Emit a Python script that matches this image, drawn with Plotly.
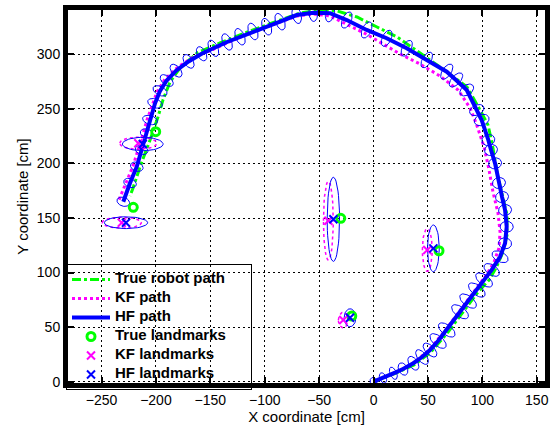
import numpy as np
import plotly.graph_objects as go

# ---------------- data (cm) ----------------
true_x = [0, 18.8, 37.2, 52.8, 68.5, 81.3, 96.0, 106.2, 112.6, 119.0, 122.7, 122.7, 119.0, 114.4,
          108.9, 105.2, 97.9, 85.9, 61.1, 42.7, 21.6, 3.2, -15.2, -33.5, -49.2, -67.6, -86.0,
          -113.5, -141.1, -162.2, -177.8, -187.0, -193.5, -198.1, -205.4, -214.6, -221.0, -223.8]
true_y = [0, 7.1, 15.3, 27.2, 45.5, 63.0, 82.2, 93.2, 104.2, 118.9, 134.4, 152.8, 169.3, 187.6,
          218.8, 235.3, 249.0, 270.1, 288.4, 301.2, 315.9, 325.0, 334.2, 339.7, 340.6, 337.8, 331.4,
          321.4, 310.4, 301.2, 287.5, 274.7, 258.2, 242.6, 221.5, 196.8, 177.5, 170.2]

kf_x = [0, 17.9, 35.4, 50.1, 64.8, 76.7, 91.4, 104.3, 110.8, 115.3, 116.3, 114.4, 109.8, 106.2,
        101.6, 94.2, 88.7, 77.7, 61.1, 42.7, 24.4, 8.7, -6.9, -25.3, -40.0, -55.6, -70.3, -85.9,
        -100.6, -124.5, -148.4, -166.8, -179.7, -191.6, -199.0, -203.6, -208.2, -211.9, -221.0, -234.8]
kf_y = [0, 7.1, 16.2, 28.1, 45.5, 62.0, 81.3, 98.7, 109.7, 122.5, 137.2, 154.6, 173.8, 194.0,
        215.1, 237.1, 250.8, 267.3, 280.1, 291.1, 300.3, 309.5, 318.6, 327.8, 335.1, 337.0, 335.1, 329.6,
        324.1, 315.0, 304.0, 296.7, 288.4, 277.4, 265.5, 253.6, 239.8, 227.0, 197.7, 164.7]

hf_x = [0, 8.7, 18.2, 27.1, 36.6, 44.6, 51.9, 59.3, 67.3, 79.5, 86.9, 94.9, 101.6, 108.6, 116.3,
        120.9, 122.4, 120.9, 118.1, 115.3, 111.7, 108.0, 105.5, 99.4, 94.9, 85.7, 75.8, 67.3, 48.9,
        30.5, 12.1, -6.3, -24.6, -40.0, -55.3, -70.6, -85.9, -98.2, -110.8, -122.7, -134.6, -147.2,
        -158.0, -170.0, -181.5, -190.1, -196.2, -200.8, -205.4, -208.5, -213.2, -217.6, -223.8, -230.0]
hf_y = [0, 3.4, 7.7, 11.6, 16.9, 22.6, 29.0, 37.3, 47.4, 64.1, 73.9, 84.0, 93.2, 102.4, 114.5,
        126.8, 142.0, 157.3, 169.3, 182.1, 200.1, 212.3, 221.5, 239.8, 248.9, 267.3, 276.5, 284.1, 294.8,
        305.5, 314.7, 322.3, 331.4, 337.6, 338.1, 336.0, 329.9, 325.3, 320.9, 316.1, 311.3, 305.5,
        300.5, 293.5, 285.0, 276.0, 266.5, 255.1, 239.8, 227.6, 212.3, 197.0, 182.1, 164.9]

# pose uncertainty semi axes (cm): across / along the path
pose_sd_across = [4, 5, 6, 6, 7, 8, 8, 9, 9, 9, 9, 9, 9, 8, 8,
                  6, 6, 6, 6, 6, 6, 6, 6, 7,
                  7, 7, 8, 8, 8, 8, 8, 8, 8,
                  8, 8, 8, 8, 8, 8, 8, 8, 8, 7, 7, 7,
                  7, 7, 7, 7, 6, 6, 6, 6, 6]
pose_sd_along = [3, 3, 3, 4, 4, 4, 4, 4.5, 4.5, 4.5, 4.5, 4.5, 4.5, 4.5, 4.5,
                 5, 5, 5, 5, 5, 5, 5, 5, 5,
                 4.5, 4.5, 4, 4, 4, 4, 4, 4, 4,
                 4, 4, 4, 4, 4, 4, 4, 4, 4, 4, 4, 4,
                 4, 4, 4, 4, 4, 4, 4, 4, 4]

lm_true_x = [-220.8, -200.2, -30.1, 60.2, -20.0]
lm_true_y = [159.8, 229.1, 149.7, 120.0, 60.2]
lm_kf_x = [-231.4, -216.2, -41.5, 49.4, -27.8]
lm_kf_y = [145.7, 218.5, 147.5, 120.7, 56.5]
lm_hf_x = [-227.5, -212.1, -36.9, 55.0, -21.6]
lm_hf_y = [145.7, 217.8, 148.8, 122.2, 58.6]
lm_hf_sx = [19.9, 18.7, 5.7, 5.4, 5.4]
lm_hf_sy = [5.4, 6.1, 38.6, 21.4, 8.2]
lm_kf_sx = [18.0, 17.0, 4.5, 4.5, 4.5]
lm_kf_sy = [5.0, 5.5, 36.0, 19.5, 7.0]

x_ticks = [-250, -200, -150, -100, -50, 0, 50, 100, 150]
y_ticks = [0, 50, 100, 150, 200, 250, 300]

legend_names = ["True robot path", "KF path", "HF path",
                "True landmarks", "KF landmarks", "HF landmarks"]

BLUE = "rgb(0,0,255)"
MAG = "rgb(255,0,255)"
GREEN = "rgb(0,255,0)"
FONT = "Liberation Sans, Arial, Helvetica, sans-serif"


def lg(name, pad=0):
    return '<span style="font-size:15px">' + name + '\u00a0' * pad + '</span>'


def ellipse(cx, cy, ux, uy, a, b, n=48):
    t = np.linspace(0, 2 * np.pi, n)
    vx, vy = -uy, ux
    ex = cx + a * np.cos(t) * vx + b * np.sin(t) * ux
    ey = cy + a * np.cos(t) * vy + b * np.sin(t) * uy
    return list(ex) + [None], list(ey) + [None]


# pose ellipses along the HF path
hx = np.array(hf_x, float)
hy = np.array(hf_y, float)
px_e, py_e = [], []
for i in range(len(hx)):
    i0, i1 = max(i - 1, 0), min(i + 1, len(hx) - 1)
    dx, dy = hx[i1] - hx[i0], hy[i1] - hy[i0]
    nrm = np.hypot(dx, dy) or 1.0
    ex, ey = ellipse(hx[i], hy[i], dx / nrm, dy / nrm, pose_sd_across[i], pose_sd_along[i])
    px_e += ex
    py_e += ey


def lm_ellipses(xs, ys, sx, sy):
    ox, oy = [], []
    for cx, cy, a, b in zip(xs, ys, sx, sy):
        ex, ey = ellipse(cx, cy, 0.0, 1.0, a, b)
        ox += ex
        oy += ey
    return ox, oy


hfl_ex, hfl_ey = lm_ellipses(lm_hf_x, lm_hf_y, lm_hf_sx, lm_hf_sy)
kfl_ex, kfl_ey = lm_ellipses(lm_kf_x, lm_kf_y, lm_kf_sx, lm_kf_sy)

fig = go.Figure()
fig.add_trace(go.Scatter(x=true_x, y=true_y, mode="lines", name=lg(legend_names[0], 5),
                         line=dict(color=GREEN, width=3, dash="dashdot")))
fig.add_trace(go.Scatter(x=kf_x, y=kf_y, mode="lines", name=lg(legend_names[1]),
                         line=dict(color=MAG, width=3, dash="dot")))
fig.add_trace(go.Scatter(x=hf_x, y=hf_y, mode="lines", name=lg(legend_names[2]),
                         line=dict(color=BLUE, width=4)))
fig.add_trace(go.Scatter(x=px_e, y=py_e, mode="lines", showlegend=False, hoverinfo="skip",
                         line=dict(color=BLUE, width=1)))
fig.add_trace(go.Scatter(x=kfl_ex, y=kfl_ey, mode="lines", showlegend=False, hoverinfo="skip",
                         line=dict(color=MAG, width=1.5, dash="dot")))
fig.add_trace(go.Scatter(x=hfl_ex, y=hfl_ey, mode="lines", showlegend=False, hoverinfo="skip",
                         line=dict(color=BLUE, width=1)))
fig.add_trace(go.Scatter(x=lm_true_x, y=lm_true_y, mode="markers", name=lg(legend_names[3]),
                         marker=dict(symbol="circle-open", size=8, color=GREEN,
                                     line=dict(width=3, color=GREEN))))
fig.add_trace(go.Scatter(x=lm_kf_x, y=lm_kf_y, mode="markers", name=lg(legend_names[4]),
                         marker=dict(symbol="x-thin-open", size=8, color=MAG,
                                     line=dict(width=2, color=MAG))))
fig.add_trace(go.Scatter(x=lm_hf_x, y=lm_hf_y, mode="markers", name=lg(legend_names[5]),
                         marker=dict(symbol="x-thin-open", size=8, color=BLUE,
                                     line=dict(width=2, color=BLUE))))

axis_common = dict(showline=True, linewidth=5, linecolor="black", mirror="ticks",
                   ticks="inside", ticklen=6, tickwidth=2, tickcolor="black",
                   showgrid=True, gridcolor="black", gridwidth=1, griddash="2px,3px",
                   zeroline=False, automargin=False,
                   tickfont=dict(family=FONT, size=14, color="black"))

fig.update_layout(
    width=555, height=428,
    margin=dict(l=68, r=10, t=10, b=45, autoexpand=False),
    paper_bgcolor="white", plot_bgcolor="white",
    font=dict(family=FONT, color="black"),
    xaxis=dict(range=[-280.8, 157.6], tickvals=x_ticks,
               title=dict(text="X coordinate [cm]", font=dict(family=FONT, size=15), standoff=4),
               **axis_common),
    yaxis=dict(range=[-1.2, 340.6], tickvals=y_ticks,
               title=dict(text="Y coordinate [cm]", font=dict(family=FONT, size=15), standoff=6),
               **axis_common),
    legend=dict(x=-2 / 477, y=-7 / 373, xanchor="left", yanchor="bottom",
                bgcolor="rgba(255,255,255,0)",
                bordercolor="black", borderwidth=1, itemwidth=38,
                font=dict(family=FONT, size=10.2, color="black", weight="bold"),
                tracegroupgap=0),
    showlegend=True,
)

fig.write_html("out.html", config={"displayModeBar": False},
               post_script="document.body.style.margin='0';document.body.style.padding='0';"
                           "document.documentElement.style.overflow='hidden';")
